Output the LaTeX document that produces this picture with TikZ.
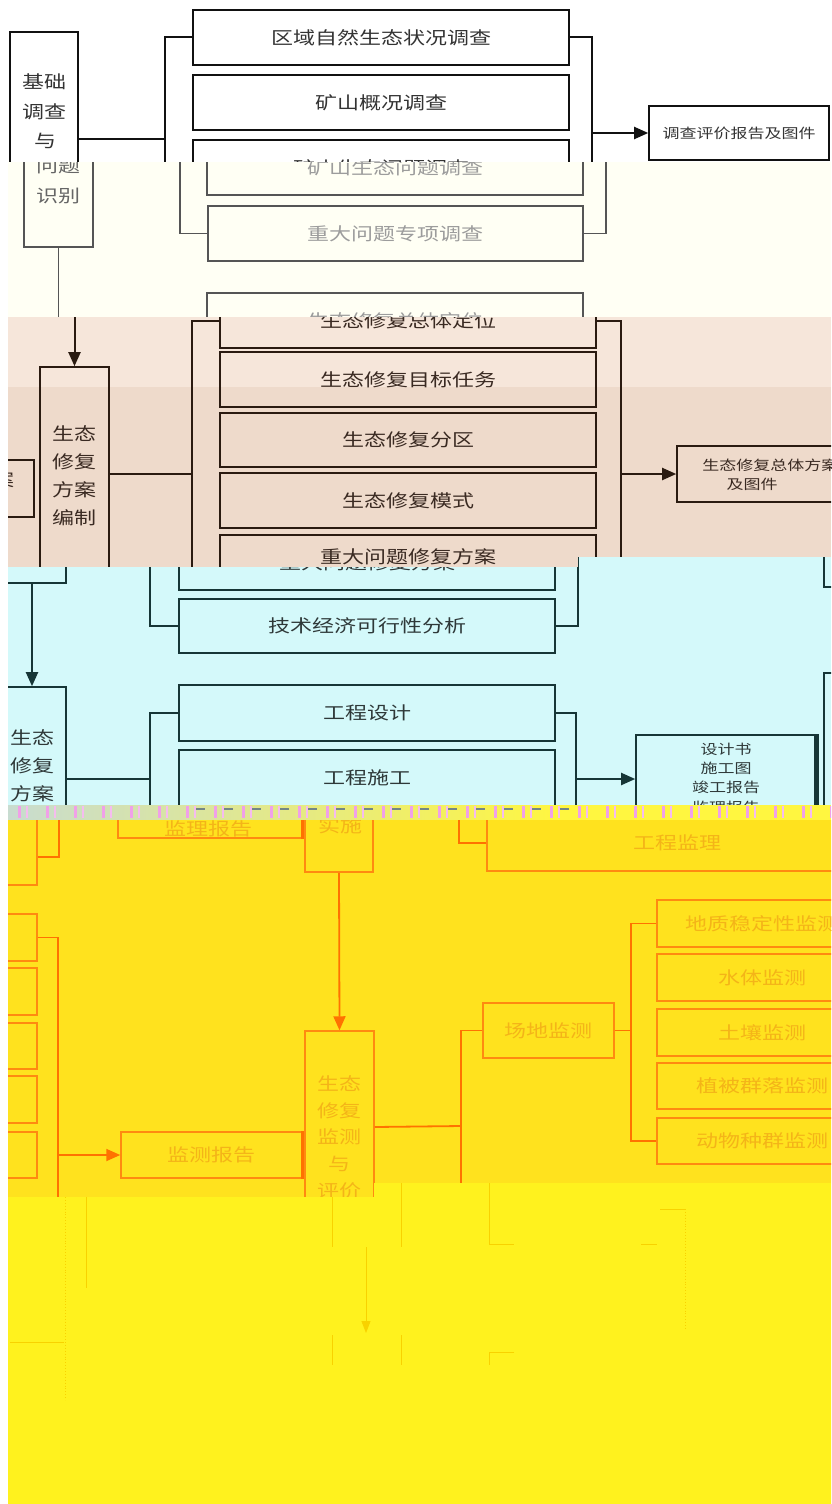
\documentclass[tikz,border=0pt]{standalone}
\usepackage{fontspec}
\setmainfont{Noto Sans CJK SC}
\usetikzlibrary{arrows.meta}
\newcommand\sq[1]{\scalebox{1}[0.8]{#1}}
\newcommand\sqs[1]{\scalebox{1}[0.8]{\begin{tabular}{@{}c@{}}#1\end{tabular}}}
\definecolor{bgcream}{HTML}{FFFFF4}
\definecolor{bgpinkA}{HTML}{F6E6DA}
\definecolor{bgpinkB}{HTML}{EEDACB}
\definecolor{bgcyan}{HTML}{D4F9FA}
\definecolor{bgyel}{HTML}{FFE21E}
\definecolor{bgyelb}{HTML}{FFF21E}
\definecolor{lnA}{HTML}{111111}
\definecolor{txA}{HTML}{333333}
\definecolor{lnB}{HTML}{555555}
\definecolor{txB}{HTML}{9C9C9C}
\definecolor{txBd}{HTML}{666666}
\definecolor{lnC}{HTML}{2A1A10}
\definecolor{txC}{HTML}{3A2A22}
\definecolor{lnD}{HTML}{163636}
\definecolor{txD}{HTML}{2E3838}
\definecolor{lnE}{HTML}{FF7200}
\definecolor{bxE}{HTML}{FF8A10}
\definecolor{txE}{HTML}{F4B418}
\definecolor{lnF}{HTML}{F8D200}
\definecolor{pinkM}{HTML}{F0A0E8}
\definecolor{stripL}{HTML}{C8DCD0}
\definecolor{stripR}{HTML}{FFF640}
\tikzset{
  bx/.style={draw, rectangle, inner sep=0pt, line width=1.6pt},
  f22/.style={font=\fontsize{22}{37}\selectfont},
  f17/.style={font=\fontsize{17}{27}\selectfont},
  arr/.style={-{Triangle[length=14pt,width=12pt]}},
}
\begin{document}
\begin{tikzpicture}[x=1pt,y=-1pt]
\useasboundingbox (0,0) rectangle (831,1504);
% ================= band 1 =================
\begin{scope}
\clip (0,0) rectangle (831,162);
\fill[white] (0,0) rectangle (831,162);
\begin{scope}[color=lnA, text=txA, line width=2pt]
\node[bx, minimum width=68, minimum height=228] (lb1) at (44,146) {};
\node[f22] (lb1t) at (45,127) {\sqs{基础\\调查\\与\\问题}};
\node[bx, f22, minimum width=376, minimum height=55] (a1) at (381,37.5) {\sq{区域自然生态状况调查}};
\node[bx, f22, minimum width=376, minimum height=55] (a2) at (381,102.5) {\sq{矿山概况调查}};
\node[bx, f22, minimum width=376, minimum height=55] (a3) at (381,167.5) {\sq{矿山生态问题调查}};
\node[bx, f17, minimum width=180, minimum height=54] (r1) at (739,133) {\sq{调查评价报告及图件}};
\coordinate (a1l) at (165,37.5);
\coordinate (a1r) at (592,37.5);
\coordinate (lb1j) at (165,139);
\coordinate (r1j) at (592,133);
\draw (a1.west) -- (a1l) -- (165,240);
\draw (lb1.east |- lb1j) -- (lb1j);
\draw (a1.east) -- (a1r) -- (592,240);
\draw[arr] (r1j) -- (r1.west);
\end{scope}
\end{scope}
% ================= band 2 =================
\begin{scope}
\clip (8,162) rectangle (831,317);
\fill[bgcream] (8,162) rectangle (831,317);
\begin{scope}[color=lnB, text=txB, line width=1.2pt]
\node[bx, line width=1.2pt, minimum width=69, minimum height=214] (lb2) at (58.5,140) {};
\node[f22, text=txBd] (lb2t) at (58,181.5) {\sqs{问题\\识别}};
\coordinate (lb2d) at (58.5,330);
\draw (lb2.south) -- (lb2d);
\node[bx, line width=1.2pt, f22, minimum width=376, minimum height=55] (b3) at (395,167.5) {\sq{矿山生态问题调查}};
\node[bx, line width=1.2pt, f22, minimum width=375, minimum height=55] (b4) at (395.5,233.5) {\sq{重大问题专项调查}};
\node[bx, line width=1.2pt, f22, minimum width=376, minimum height=55] (b5) at (395,320.5) {\sq{生态修复总体定位}};
\coordinate (b4l) at (180,233.5);
\coordinate (b4r) at (606,233.5);
\draw (b4.west) -- (b4l) -- (180,150);
\draw (b4.east) -- (b4r) -- (606,150);
\end{scope}
\end{scope}
% ================= band 3 =================
\begin{scope}
\clip (8,317) -- (831,317) -- (831,557) -- (578,557) -- (578,567) -- (8,567) -- cycle;
\fill[bgpinkA] (8,317) rectangle (831,387);
\fill[bgpinkB] (8,387) rectangle (831,567);
\begin{scope}[color=lnC, text=txC, line width=2pt]
\node[bx, minimum width=69, minimum height=266] (lb3) at (74.5,500) {};
\node[font=\fontsize{22}{35}\selectfont] (lb3t) at (74,477.3) {\sqs{生态\\修复\\方案\\编制}};
\coordinate (lb3in) at (74.5,300);
\draw[arr] (lb3in) -- (lb3.north);
\node[bx, f22, minimum width=376, minimum height=55] (c1) at (408,320.5) {\sq{生态修复总体定位}};
\node[bx, f22, minimum width=376, minimum height=55] (c2) at (408,379.5) {\sq{生态修复目标任务}};
\node[bx, f22, minimum width=376, minimum height=54] (c3) at (408,440) {\sq{生态修复分区}};
\node[bx, f22, minimum width=376, minimum height=55] (c4) at (408,500.5) {\sq{生态修复模式}};
\node[bx, f22, minimum width=376, minimum height=55] (c5) at (408,562.5) {};
\node[f22] (c5t) at (408,557) {\sq{重大问题修复方案}};
\coordinate (c1l) at (192,320.5);
\coordinate (c1r) at (621,320.5);
\coordinate (lb3j) at (192,474);
\coordinate (r3j) at (621,474);
\draw (c1.west) -- (c1l) -- (192,700);
\draw (c1.east) -- (c1r) -- (621,700);
\draw (lb3.east |- lb3j) -- (lb3j);
\node[bx, minimum width=200, minimum height=56] (r3) at (777,474) {};
\draw[arr] (r3j) -- (r3.west);
\node[f17, anchor=west] (r3a) at (698,465) {\sq{生态修复总体方案}};
\node[f17] (r3b) at (752,484) {\sq{及图件}};
\node[bx, minimum width=74, minimum height=57] (sl3) at (-3,488.5) {};
\node[f22] (sl3t) at (3,480) {\sq{案}};
\end{scope}
\end{scope}
% ================= band 4 =================
\begin{scope}
\clip (8,567) -- (578,567) -- (578,557) -- (831,557) -- (831,805) -- (8,805) -- cycle;
\fill[bgcyan] (8,557) rectangle (831,805);
\begin{scope}[color=lnD, text=txD, line width=2pt]
\node[bx, minimum width=68, minimum height=266] (lb4) at (32,450) {};
\node[bx, minimum width=68, minimum height=266] (lb5) at (32,820) {};
\draw[arr] (lb4.south) -- (lb5.north);
\node[font=\fontsize{22}{35}\selectfont] (lb5t) at (32,780.8) {\sqs{生态\\修复\\方案\\实施}};
\node[bx, f22, minimum width=376, minimum height=55] (d5) at (367,562.5) {\sq{重大问题修复方案}};
\node[bx, f22, minimum width=376, minimum height=54] (d6) at (367,626) {\sq{技术经济可行性分析}};
\node[bx, f22, minimum width=376, minimum height=56] (d7) at (367,713) {\sq{工程设计}};
\node[bx, f22, minimum width=376, minimum height=56] (d8) at (367,778) {\sq{工程施工}};
\coordinate (d6l) at (150,626);
\coordinate (d6r) at (578,626);
\draw (d6.west) -- (d6l) -- (150,540);
\draw (d6.east) -- (d6r) -- (578,540);
\coordinate (d7l) at (150,713);
\coordinate (d7r) at (576,713);
\coordinate (lb5j) at (150,779);
\coordinate (r4j) at (576,779);
\draw (d7.west) -- (d7l) -- (150,900);
\draw (d7.east) -- (d7r) -- (576,900);
\draw (lb5.east |- lb5j) -- (lb5j);
\node[bx, minimum width=180, minimum height=130] (r4) at (726,800) {};
\draw[arr] (r4j) -- (r4.west |- r4j);
\draw[line width=5pt] (r4.north east) -- (r4.south east);
\node[font=\fontsize{17}{24.1}\selectfont] (r4t) at (726,779.3) {\sqs{设计书\\施工图\\竣工报告\\监理报告}};
\node[bx, minimum width=80, minimum height=200] (rp1) at (864,487) {};
\node[bx, minimum width=80, minimum height=300] (rp2) at (864,823) {};
\end{scope}
\end{scope}
% ================= glitch strip =================
\begin{scope}
\clip (8,805) rectangle (831,820);
\shade[left color=stripL, right color=stripR] (8,805) rectangle (560,820);
\fill[stripR] (560,805) rectangle (831,820);
\foreach \i in {0,...,29} {
  \fill[pinkM] (18+28*\i,806) rectangle ++(2.5,12);
  \fill[pinkM!70!white] (26+28*\i,806) rectangle ++(2,12);
}
\foreach \i in {0,...,13} {
  \fill[lnD!60!white] (196+28*\i,807.5) rectangle ++(9,2.5);
}
\end{scope}
% ================= band 5 =================
\begin{scope}
\clip (8,820) -- (831,820) -- (831,1183) -- (374,1183) -- (374,1197) -- (8,1197) -- cycle;
\fill[bgyel] (8,820) -- (831,820) -- (831,1183) -- (374,1183) -- (374,1197) -- (8,1197) -- cycle;
\begin{scope}[color=lnE, text=txE, line width=1.8pt, bxo/.style={bx, draw=bxE, line width=1.5pt}]
\node[bxo, minimum width=77, minimum height=170] (e0) at (-1.5,800) {};
\coordinate (e0j) at (59,857);
\draw (e0.east |- e0j) -- (e0j) -- (59,815);
\node[bxo, minimum width=77, minimum height=47] (e1) at (-1.5,937.5) {};
\node[bxo, minimum width=77, minimum height=47] (e2) at (-1.5,991.5) {};
\node[bxo, minimum width=77, minimum height=46] (e3) at (-1.5,1046) {};
\node[bxo, minimum width=77, minimum height=47] (e4) at (-1.5,1099.5) {};
\node[bxo, minimum width=77, minimum height=46] (e5) at (-1.5,1155) {};
\coordinate (e1j) at (58,937.5);
\coordinate (m1j) at (58,1155);
\draw (e1.east) -- (e1j) -- (58,1300);
\node[bxo, f22, minimum width=181, minimum height=46] (m1) at (211.5,1155) {\sq{监测报告}};
\draw[arr] (m1j) -- (m1.west);
\draw[line width=3.5pt] (m1.north east) -- (m1.south east);
\node[bxo, minimum width=184, minimum height=47] (m0) at (210,814.5) {};
\draw[line width=3.5pt] (m0.north east) -- (m0.south east);
\node[f22] (m0t) at (208,829) {\sq{监理报告}};
\node[bxo, minimum width=68, minimum height=264] (s0) at (339,740) {};
\node[f22] (s0t) at (340,826) {\sq{实施}};
\node[bxo, minimum width=69, minimum height=258] (s1) at (339.5,1160) {};
\draw[arr] (s0.south) -- (s1.north);
\node[font=\fontsize{22}{33.4}\selectfont] (s1t) at (339,1138.5) {\sqs{生态\\修复\\监测\\与\\评价}};
\node[bxo, f22, minimum width=131, minimum height=55] (p1) at (548.5,1030.5) {\sq{场地监测}};
\coordinate (s1j) at (461,1126);
\coordinate (p1l) at (461,1030.5);
\coordinate (p1r) at (631,1030.5);
\draw (s1.east |- 0,1127) -- (s1j);
\draw (p1.west) -- (p1l) -- (461,1300);
\draw (p1.east) -- (p1r);
\node[bxo, f22, minimum width=210, minimum height=47] (q1) at (762,923.5) {\sq{地质稳定性监测}};
\node[bxo, f22, minimum width=210, minimum height=47] (q2) at (762,977.5) {\sq{水体监测}};
\node[bxo, f22, minimum width=210, minimum height=47] (q3) at (762,1032.5) {\sq{土壤监测}};
\node[bxo, f22, minimum width=210, minimum height=46] (q4) at (762,1086) {\sq{植被群落监测}};
\node[bxo, f22, minimum width=210, minimum height=46] (q5) at (762,1141) {\sq{动物种群监测}};
\coordinate (q1j) at (631,923.5);
\coordinate (q5j) at (631,1141);
\draw (q1.west) -- (q1j) -- (q5j) -- (q5.west);
\node[bxo, minimum width=450, minimum height=56] (g1) at (712,843) {};
\node[f22] (g1t) at (677,843) {\sq{工程监理}};
\coordinate (g1j) at (459,843);
\draw (g1.west) -- (g1j) -- (459,815);
\end{scope}
\end{scope}
% ================= band 6 =================
\begin{scope}
\clip (8,1197) -- (374,1197) -- (374,1183) -- (831,1183) -- (831,1504) -- (8,1504) -- cycle;
\fill[bgyelb] (8,1197) -- (374,1197) -- (374,1183) -- (831,1183) -- (831,1504) -- (8,1504) -- cycle;
\begin{scope}[color=lnF, line width=0.9pt]
\draw (86,1190) -- (86,1288);
\draw[dotted] (65,1197) -- (65,1400);
\draw (332,1190) -- (332,1247);
\draw (401,1183) -- (401,1247);
\draw[-{Triangle[length=12pt,width=9pt]}] (366,1247) -- (366,1333);
\draw (489,1183) -- (489,1244) -- (514,1244);
\draw (660,1209) -- (685,1209);
\draw[dotted] (685,1209) -- (685,1330);
\draw (641,1244) -- (657,1244);
\draw (332,1335) -- (332,1365);
\draw (401,1335) -- (401,1365);
\draw (514,1352) -- (489,1352) -- (489,1365);
\draw (10,1342) -- (64,1342);
\end{scope}
\end{scope}
\fill[white] (0,162) rectangle (8,1504);
\end{tikzpicture}
\end{document}
